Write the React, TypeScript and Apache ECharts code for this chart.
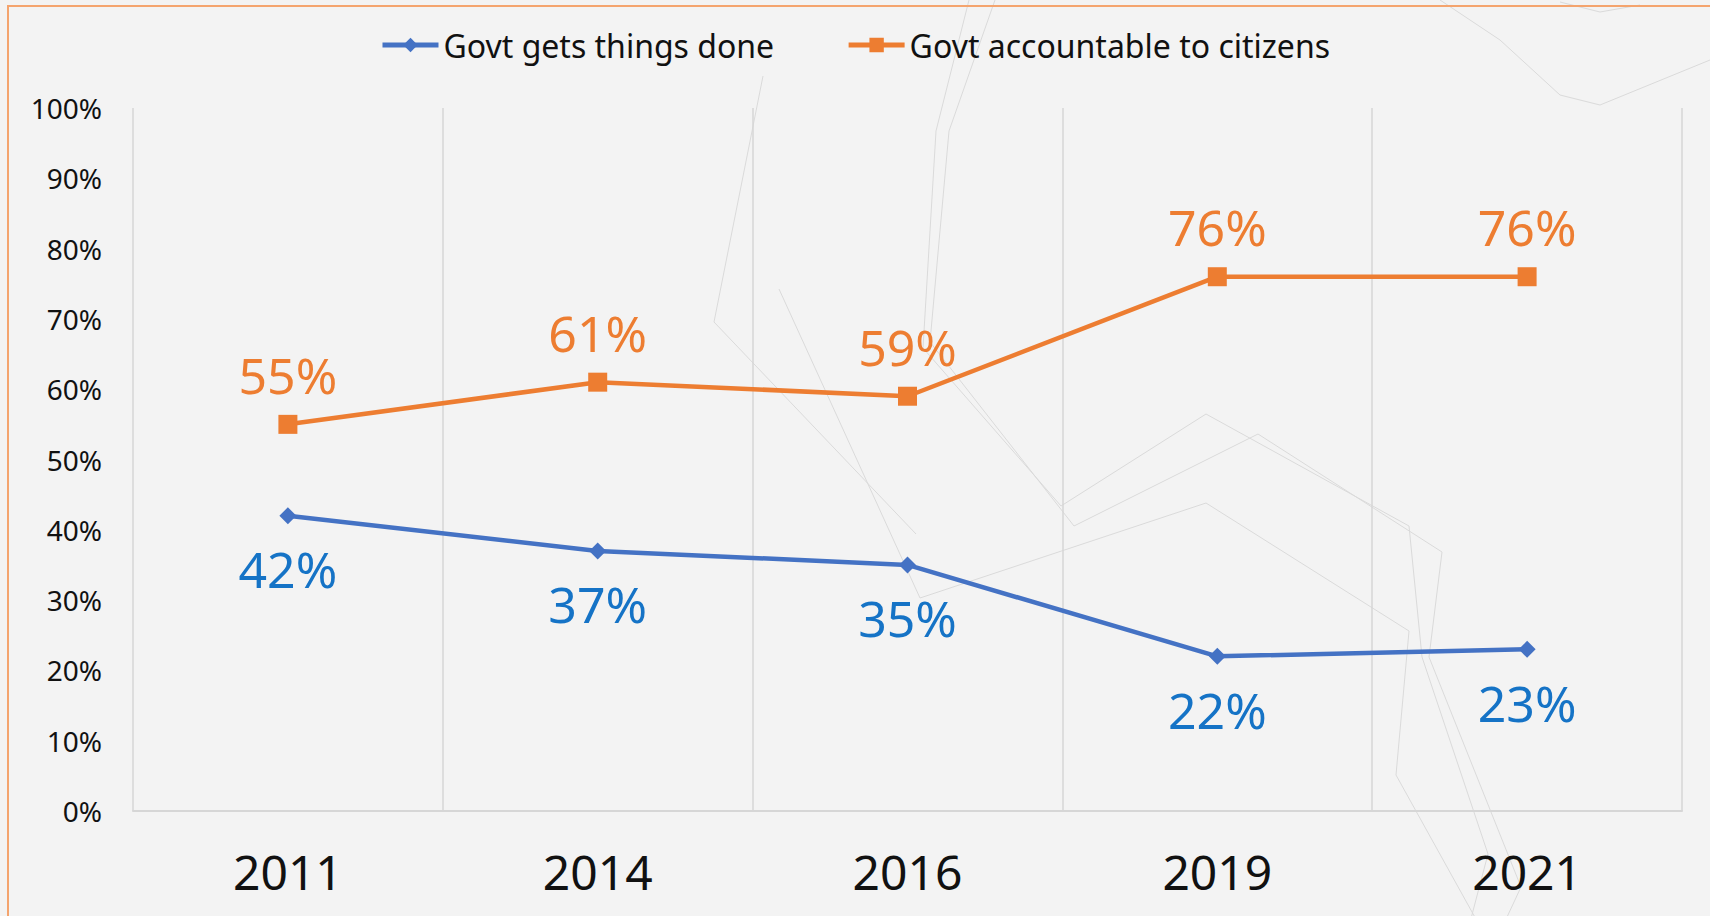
import React, { useEffect, useRef } from "react";
import * as echarts from "echarts";

const years = ["2011", "2014", "2016", "2019", "2021"];
const getsThingsDone = [42, 37, 35, 22, 23];
const accountable = [55, 61, 59, 76, 76];
const seriesNames = ["Govt gets things done", "Govt accountable to citizens"];

const FONT = "'Noto Sans', 'DejaVu Sans', sans-serif";

// faint decorative background strokes (page artwork, not data)
const decoStrokes: number[][][] = [
  [[995, 0], [949, 131], [930, 342], [1074, 526], [1258, 434], [1442, 552], [1429, 657], [1521, 887], [1501, 930]],
  [[969, 0], [936, 131], [923, 348], [1061, 506], [1206, 414], [1409, 526], [1422, 657], [1488, 854], [1468, 930]],
  [[779, 289], [920, 598], [1206, 503], [1409, 631], [1396, 775], [1482, 930]],
  [[763, 76], [714, 322], [916, 534]],
  [[1440, 0], [1500, 40], [1560, 95], [1600, 105], [1710, 60]],
  [[1560, 2], [1600, 12], [1640, 5]],
];

export default function App() {
  const ref = useRef<HTMLDivElement>(null);
  useEffect(() => {
    if (!ref.current) return;
    const chart = echarts.init(ref.current, undefined, { renderer: "svg" });
    chart.setOption({
      animation: false,
      backgroundColor: "#f3f3f3",
      textStyle: { fontFamily: FONT },
      graphic: [
        ...decoStrokes.map((pts) => ({
          type: "polyline",
          shape: { points: pts },
          style: { fill: "none", stroke: "#dadada", lineWidth: 1 },
          silent: true,
          z: -10,
        })),
        {
          type: "rect",
          shape: { x: 8, y: 6, width: 1800, height: 1000 },
          style: { fill: "none", stroke: "#F4A46E", lineWidth: 2 },
          silent: true,
          z: -1,
        },
      ],
      legend: {
        top: 24,
        left: "center",
        itemWidth: 56,
        itemHeight: 18,
        itemGap: 72,
        lineStyle: { width: 5 },
        textStyle: { fontSize: 32, color: "#111", fontFamily: FONT },
        data: seriesNames,
      },
      grid: { left: 133, right: 28, top: 108, bottom: 105, containLabel: false },
      xAxis: {
        type: "category",
        data: years,
        boundaryGap: true,
        axisLine: { show: true, lineStyle: { color: "#d6d6d6", width: 2 } },
        axisTick: { show: false },
        splitLine: { show: true, lineStyle: { color: "#d6d6d6", width: 1.5 } },
        axisLabel: { fontSize: 48, color: "#111", margin: 36, fontFamily: FONT },
      },
      yAxis: {
        type: "value",
        min: 0,
        max: 100,
        interval: 10,
        axisLine: { show: false },
        axisTick: { show: false },
        splitLine: { show: false },
        axisLabel: {
          formatter: "{value}%",
          fontSize: 28,
          color: "#111",
          margin: 31,
          fontFamily: FONT,
        },
      },
      series: [
        {
          name: seriesNames[0],
          type: "line",
          data: getsThingsDone,
          symbol: "diamond",
          symbolSize: 17,
          itemStyle: { color: "#4472C4" },
          lineStyle: { color: "#4472C4", width: 4.5 },
          label: {
            show: true,
            position: "bottom",
            distance: 20,
            formatter: "{c}%",
            fontSize: 50,
            color: "#1573C6",
            fontFamily: FONT,
          },
        },
        {
          name: seriesNames[1],
          type: "line",
          data: accountable,
          symbol: "rect",
          symbolSize: 19,
          itemStyle: { color: "#ED7D31" },
          lineStyle: { color: "#ED7D31", width: 4.5 },
          label: {
            show: true,
            position: "top",
            distance: 15,
            formatter: "{c}%",
            fontSize: 50,
            color: "#ED7D31",
            fontFamily: FONT,
          },
        },
      ],
    });
    return () => chart.dispose();
  }, []);
  return (
    <div
      ref={ref}
      style={{ position: "fixed", left: 0, top: 0, width: 1710, height: 916 }}
    />
  );
}
